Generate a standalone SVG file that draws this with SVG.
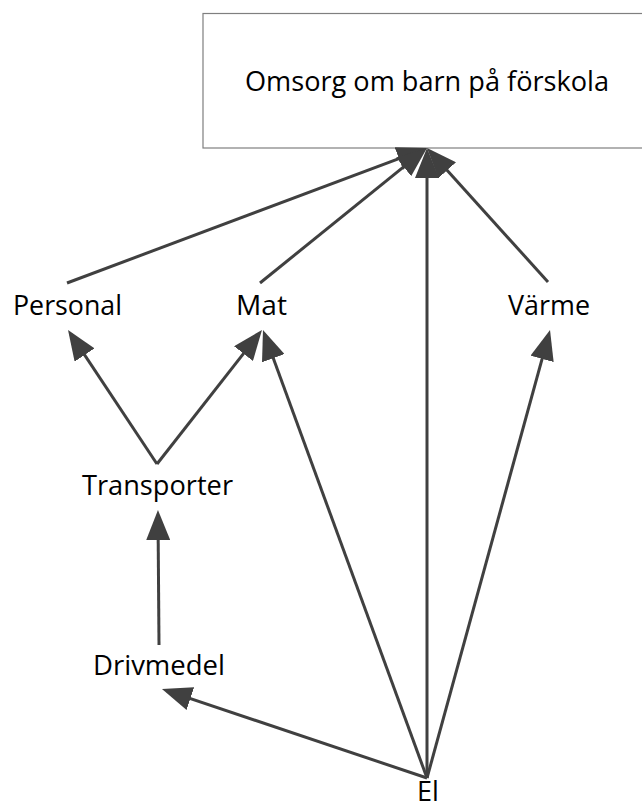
<svg xmlns="http://www.w3.org/2000/svg" width="642" height="809" viewBox="0 0 642 809">
<style>
text{font-family:"Open Sans","Liberation Sans",sans-serif;font-size:27px;fill:#000;text-anchor:middle}
.c line{stroke:#404040;stroke-width:3;fill:none;marker-end:url(#ah)}
</style>
<defs>
<marker id="ah" markerUnits="userSpaceOnUse" markerWidth="30" markerHeight="24" refX="25" refY="12" orient="auto" viewBox="0 0 30 24">
<path d="M0,0 L30,12 L0,24 z" fill="#404040"/>
</marker>
</defs>
<rect width="642" height="809" fill="#fff"/>
<g id="omsorg">
<rect x="203" y="13.5" width="460" height="134.5" fill="#fff" stroke="#7f7f7f" stroke-width="1.2"/>
<text x="427" y="91" textLength="364" lengthAdjust="spacingAndGlyphs">Omsorg om barn på förskola</text>
</g>
<g id="personal"><text x="67.5" y="315" textLength="109" lengthAdjust="spacingAndGlyphs">Personal</text></g>
<g id="mat"><text x="261.5" y="315" textLength="51" lengthAdjust="spacingAndGlyphs">Mat</text></g>
<g id="varme"><text x="549" y="315" textLength="82" lengthAdjust="spacingAndGlyphs">Värme</text></g>
<g id="transporter"><text x="157.5" y="495" textLength="151" lengthAdjust="spacingAndGlyphs">Transporter</text></g>
<g id="drivmedel"><text x="159" y="675" textLength="132" lengthAdjust="spacingAndGlyphs">Drivmedel</text></g>
<g id="el"><text x="428" y="801">El</text></g>
<g class="c" id="connectors">
<line x1="67" y1="283" x2="422.3" y2="149.8"/>
<line x1="260" y1="283" x2="423.1" y2="151.1"/>
<line x1="427" y1="778" x2="427" y2="153"/>
<line x1="548" y1="282" x2="430.4" y2="151.7"/>
<line x1="157" y1="464" x2="70.8" y2="334.2"/>
<line x1="157" y1="464" x2="258.9" y2="333.9"/>
<line x1="427" y1="778" x2="264.7" y2="334.7"/>
<line x1="427" y1="778" x2="548.7" y2="334.8"/>
<line x1="159" y1="645" x2="158" y2="515"/>
<line x1="427" y1="778" x2="166.7" y2="690.6"/>
</g>
</svg>
